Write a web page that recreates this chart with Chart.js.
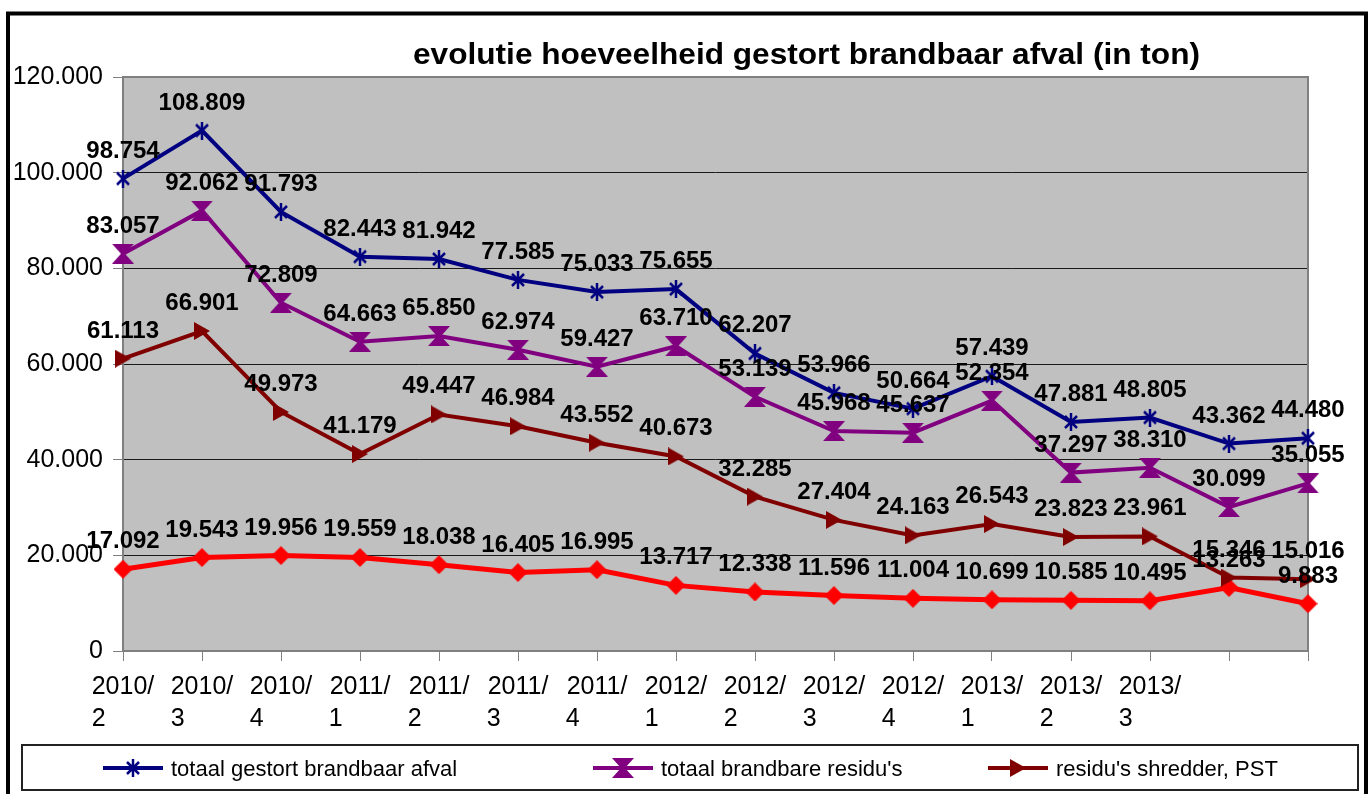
<!DOCTYPE html>
<html>
<head>
<meta charset="utf-8">
<script src="https://cdn.jsdelivr.net/npm/chart.js@4.4.0/dist/chart.umd.min.js"></script>
<style>
  body { margin: 0; background: #fff; }
  #wrap { width: 1372px; height: 794px; position: relative; }
</style>
</head>
<body>
<div id="wrap"><canvas id="chart"></canvas></div>
<script>
// quarters on the x axis (last two have no label in the original)
const quarters = ['2010/2', '2010/3', '2010/4', '2011/1', '2011/2', '2011/3', '2011/4',
                  '2012/1', '2012/2', '2012/3', '2012/4', '2013/1', '2013/2', '2013/3', '', ''];

const totaalGestort = [98754, 108809, 91793, 82443, 81942, 77585, 75033, 75655,
                       62207, 53966, 50664, 57439, 47881, 48805, 43362, 44480];
const totaalResidus = [83057, 92062, 72809, 64663, 65850, 62974, 59427, 63710,
                       53139, 45968, 45637, 52354, 37297, 38310, 30099, 35055];
const residuShredder = [61113, 66901, 49973, 41179, 49447, 46984, 43552, 40673,
                        32285, 27404, 24163, 26543, 23823, 23961, 15346, 15016];
const overigeResidus = [17092, 19543, 19956, 19559, 18038, 16405, 16995, 13717,
                        12338, 11596, 11004, 10699, 10585, 10495, 13263, 9883];

const seriesNames = ['totaal gestort brandbaar afval', "totaal brandbare residu's",
                     "residu's shredder, PST", "overige brandbare residu's"];
const yMin = 0, yMax = 120000, yStep = 20000;

const FONT = '"Liberation Sans", Arial, sans-serif';
Chart.defaults.font.family = FONT;

function fmt(v) {
    return String(Math.round(v)).replace(/\B(?=(\d{3})+(?!\d))/g, '.');
}

// "2010/2" -> two lines, second line padded so it sits left like in Excel
function splitLabel(q) {
    if (!q) return '';
    const parts = q.split('/');
    return [parts[0] + '/', parts[1] + '       '];
}

function makeMarker(w, h, draw) {
    const c = document.createElement('canvas');
    c.width = w; c.height = h;
    draw(c.getContext('2d'), w, h);
    return c;
}

const starMarker = makeMarker(16, 18, (g, w, h) => {
    g.strokeStyle = '#000080'; g.lineWidth = 2.5;
    g.beginPath();
    g.moveTo(2, 3); g.lineTo(w - 2, h - 3);
    g.moveTo(w - 2, 3); g.lineTo(2, h - 3);
    g.moveTo(w / 2, 0); g.lineTo(w / 2, h);
    g.stroke();
});
const hourglassMarker = makeMarker(22, 20, (g, w, h) => {
    g.fillStyle = '#800080';
    g.beginPath();
    g.moveTo(0, 0); g.lineTo(w, 0); g.lineTo(w / 2 + 2, h / 2);
    g.lineTo(w, h); g.lineTo(0, h); g.lineTo(w / 2 - 2, h / 2);
    g.closePath(); g.fill();
});
const triangleMarker = makeMarker(16, 18, (g, w, h) => {
    g.fillStyle = '#800000';
    g.beginPath();
    g.moveTo(0, 0); g.lineTo(w, h / 2); g.lineTo(0, h);
    g.closePath(); g.fill();
});
const diamondMarker = makeMarker(19, 19, (g, w, h) => {
    g.fillStyle = '#FF0000';
    g.beginPath();
    g.moveTo(w / 2, 0); g.lineTo(w, h / 2); g.lineTo(w / 2, h); g.lineTo(0, h / 2);
    g.closePath(); g.fill();
});

function lineSet(label, data, color, marker, width) {
    return {
        label: label,
        data: data,
        borderColor: color,
        backgroundColor: color,
        borderWidth: width,
        tension: 0,
        pointStyle: marker,
        pointRadius: 8,
        clip: false
    };
}

// background, outer frame and plot area
const frame = {
    id: 'frame',
    beforeDraw(chart) {
        const ctx = chart.ctx, a = chart.chartArea;
        ctx.save();
        ctx.fillStyle = '#fff';
        ctx.fillRect(0, 0, chart.width, chart.height);
        ctx.strokeStyle = '#000';
        ctx.lineWidth = 4;
        ctx.strokeRect(8, 13.5, 1358, 800);
        ctx.fillStyle = '#C0C0C0';
        ctx.fillRect(a.left, a.top, a.right - a.left, a.bottom - a.top);
        ctx.restore();
    },
    beforeDatasetsDraw(chart) {
        const ctx = chart.ctx, a = chart.chartArea;
        ctx.save();
        ctx.strokeStyle = '#808080';
        ctx.lineWidth = 2;
        ctx.strokeRect(a.left, a.top, a.right - a.left, a.bottom - a.top);
        ctx.restore();
    }
};

// value above every point
const valueLabels = {
    id: 'valueLabels',
    afterDatasetsDraw(chart) {
        const ctx = chart.ctx;
        ctx.save();
        ctx.font = 'bold 24px ' + FONT;
        ctx.fillStyle = '#000';
        ctx.textAlign = 'center';
        ctx.textBaseline = 'alphabetic';
        chart.data.datasets.forEach((ds, i) => {
            chart.getDatasetMeta(i).data.forEach((pt, j) => {
                ctx.fillText(fmt(ds.data[j]), pt.x, pt.y - 21);
            });
        });
        ctx.restore();
    }
};

const titleText = 'evolutie hoeveelheid gestort brandbaar afval (in ton)';
const titleBox = {
    id: 'titleBox',
    afterDraw(chart) {
        const ctx = chart.ctx;
        ctx.save();
        ctx.font = 'bold 29px ' + FONT;
        ctx.fillStyle = '#000';
        ctx.textBaseline = 'alphabetic';
        const w = ctx.measureText(titleText).width;
        ctx.translate(413, 64);
        ctx.scale(787 / w, 1);
        ctx.fillText(titleText, 0, 0);
        ctx.restore();
    }
};

// legend box at the bottom, only three series are visible in the original
const legendItems = [{ x: 103, ds: 0 }, { x: 593, ds: 1 }, { x: 988, ds: 2 }];
const legendBox = {
    id: 'legendBox',
    afterDraw(chart) {
        const ctx = chart.ctx;
        ctx.save();
        ctx.strokeStyle = '#222';
        ctx.lineWidth = 2;
        ctx.strokeRect(22, 745, 1336, 45);
        ctx.font = '22px ' + FONT;
        ctx.fillStyle = '#000';
        ctx.textBaseline = 'alphabetic';
        legendItems.forEach(it => {
            const ds = chart.data.datasets[it.ds];
            const y = 768;
            ctx.strokeStyle = ds.borderColor;
            ctx.lineWidth = ds.borderWidth;
            ctx.beginPath();
            ctx.moveTo(it.x, y);
            ctx.lineTo(it.x + 60, y);
            ctx.stroke();
            const m = ds.pointStyle;
            ctx.drawImage(m, it.x + 30 - m.width / 2, y - m.height / 2);
            ctx.fillText(ds.label, it.x + 68, 776);
        });
        ctx.restore();
    }
};

new Chart(document.getElementById('chart'), {
    type: 'line',
    data: {
        labels: quarters.map(splitLabel),
        datasets: [
            lineSet(seriesNames[0], totaalGestort, '#000080', starMarker, 4),
            lineSet(seriesNames[1], totaalResidus, '#800080', hourglassMarker, 4),
            lineSet(seriesNames[2], residuShredder, '#800000', triangleMarker, 4),
            lineSet(seriesNames[3], overigeResidus, '#FF0000', diamondMarker, 5)
        ]
    },
    options: {
        responsive: true,
        maintainAspectRatio: false,
        animation: false,
        layout: { padding: { left: 10, top: 77, right: 64, bottom: 53 } },
        plugins: {
            legend: { display: false },
            title: { display: false },
            tooltip: { enabled: false }
        },
        scales: {
            x: {
                offset: false,
                ticks: {
                    autoSkip: false, maxRotation: 0, minRotation: 0,
                    padding: 10, color: '#000',
                    font: { size: 25, lineHeight: 1.28 }
                },
                grid: { drawOnChartArea: false, tickLength: 10, tickColor: '#808080' },
                border: { display: false },
                afterFit(s) { s.height = 90; }
            },
            y: {
                min: yMin,
                max: yMax,
                ticks: {
                    stepSize: yStep, padding: 10, color: '#000',
                    font: { size: 25 },
                    callback: v => fmt(v)
                },
                grid: { color: '#1a1a1a', lineWidth: 1, tickLength: 10, tickColor: '#808080' },
                border: { display: false },
                afterFit(s) { s.width = 113; }
            }
        }
    },
    plugins: [frame, valueLabels, titleBox, legendBox]
});
</script>
</body>
</html>
